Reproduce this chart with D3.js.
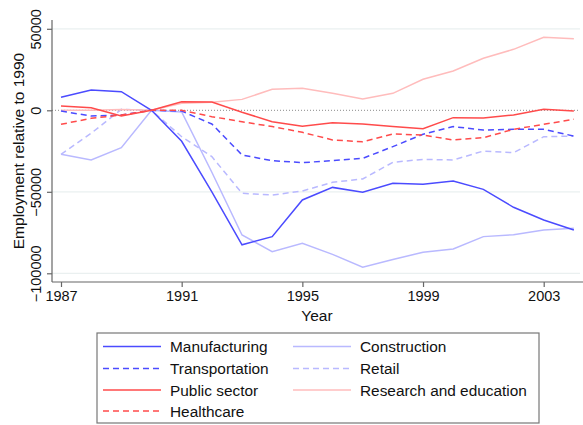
<!DOCTYPE html>
<html><head><meta charset="utf-8">
<script src="https://cdn.jsdelivr.net/npm/d3@7"></script>
<style>body{margin:0;background:#fff;} svg{display:block;font-family:"Liberation Sans",Arial,sans-serif;}</style>
</head><body>
<svg id="c" width="583" height="425"></svg>
<script>
const years = [1987,1988,1989,1990,1991,1992,1993,1994,1995,1996,1997,1998,1999,2000,2001,2002,2003,2004];
const manufacturing = [8000,12500,11400,0,-19000,-50000,-82500,-77500,-55000,-47300,-50300,-44800,-45400,-43400,-48500,-59500,-67300,-73400];
const construction = [-27000,-30500,-22900,0,-1000,-38000,-76500,-86700,-81600,-88400,-96300,-91500,-87100,-85100,-77500,-76300,-73400,-72400];
const transportation = [-500,-3500,-2900,0,-500,-8400,-27400,-30900,-32100,-30900,-29500,-22300,-14700,-10000,-12100,-11700,-11700,-15800];
const retail = [-27000,-14100,600,0,-16200,-28400,-50900,-52000,-49500,-44200,-42100,-31900,-30100,-30500,-25000,-26000,-16200,-15800];
const publicSector = [2600,1600,-3500,0,5300,5100,-1200,-7000,-9800,-7600,-8400,-10000,-11300,-4500,-4700,-2900,600,-400];
const healthcare = [-8600,-4900,-2900,0,0,-3900,-7000,-10000,-13500,-18200,-19300,-14500,-15200,-18200,-16800,-11700,-8600,-5500];
const research = [0,0,500,0,4300,5000,6700,12900,13500,10400,6900,10400,19000,24100,31900,37400,44800,43900];
const yTicks = [-100000,-50000,0,50000];
const xTicks = [1987,1991,1995,1999,2003];

const series = [
  {name:"Manufacturing", values:manufacturing, color:"#4b4bff", dash:null},
  {name:"Construction", values:construction, color:"#b9b9ff", dash:null},
  {name:"Transportation", values:transportation, color:"#4b4bff", dash:"6,4"},
  {name:"Retail", values:retail, color:"#b9b9ff", dash:"6,4"},
  {name:"Public sector", values:publicSector, color:"#ff4b4b", dash:null},
  {name:"Research and education", values:research, color:"#ffbcbc", dash:null},
  {name:"Healthcare", values:healthcare, color:"#ff4b4b", dash:"6,4"}
];

const svg = d3.select("#c");
const L = 52, R = 583, T = 20, B = 282;
const x = d3.scaleLinear().domain([1987,2003]).range([61,543.7]);
const y = d3.scaleLinear().domain([-100000,50000]).range([273.3,28.8]);

// gridlines
svg.append("g").selectAll("line").data(yTicks.filter(d=>d!==0)).join("line")
  .attr("x1",L).attr("x2",580).attr("y1",d=>y(d)).attr("y2",d=>y(d))
  .attr("stroke","#eaf0f0").attr("stroke-width",1.2);
// zero dotted line
svg.append("line").attr("x1",L).attr("x2",580).attr("y1",y(0)).attr("y2",y(0))
  .attr("stroke","#8a8a8a").attr("stroke-width",1).attr("stroke-dasharray","1,2");

// lines
const line = d3.line().x((d,i)=>x(years[i])).y(d=>y(d));
const drawOrder = [1,3,5,0,2,4,6];
svg.append("g").selectAll("path").data(drawOrder.map(i=>series[i])).join("path")
  .attr("d",d=>line(d.values)).attr("fill","none")
  .attr("stroke",d=>d.color).attr("stroke-width",1.5)
  .attr("stroke-dasharray",d=>d.dash);

// axes
const yAxis = svg.append("g").attr("transform",`translate(${L},0)`)
  .call(d3.axisLeft(y).tickValues(yTicks).tickSize(5).tickPadding(4).tickFormat(d3.format("d")));
yAxis.select(".domain").attr("d",`M0,${T}V${B}`);
yAxis.selectAll(".tick text").attr("transform","rotate(-90)").attr("x",0).attr("y",-11)
  .attr("dy",0).attr("text-anchor","middle").style("font-size","14.5px").attr("fill","#111");
const xAxis = svg.append("g").attr("transform",`translate(0,${B})`)
  .call(d3.axisBottom(x).tickValues(xTicks).tickSize(5).tickPadding(4).tickFormat(d3.format("d")));
xAxis.select(".domain").attr("d",`M${L},0H${R}`);
xAxis.selectAll(".tick text").style("font-size","14.5px").attr("fill","#111");
svg.selectAll(".domain").attr("stroke","#666").attr("stroke-width",1.2);
svg.selectAll(".tick line").attr("stroke","#666").attr("stroke-width",1.2);

// titles
svg.append("text").attr("transform",`translate(24,151) rotate(-90)`).attr("text-anchor","middle")
  .style("font-size","15.5px").attr("fill","#111").text("Employment relative to 1990");
svg.append("text").attr("x",317).attr("y",321).attr("text-anchor","middle")
  .style("font-size","15.5px").attr("fill","#111").text("Year");

// legend
const lg = svg.append("g");
lg.append("rect").attr("x",97).attr("y",333).attr("width",442).attr("height",90)
  .attr("fill","#fff").attr("stroke","#777").attr("stroke-width",1.2);
const rowY = [346.5,368.5,390,411];
const colX = [103,293];
series.forEach((s,i)=>{
  const col = i%2, row = Math.floor(i/2);
  const cx = colX[col], cy = rowY[row];
  lg.append("line").attr("x1",cx).attr("x2",cx+58).attr("y1",cy).attr("y2",cy)
    .attr("stroke",s.color).attr("stroke-width",1.5).attr("stroke-dasharray",s.dash);
  lg.append("text").attr("x",cx+67).attr("y",cy+5.5).style("font-size","15.4px")
    .attr("fill","#111").text(s.name);
});
</script>
</body></html>
